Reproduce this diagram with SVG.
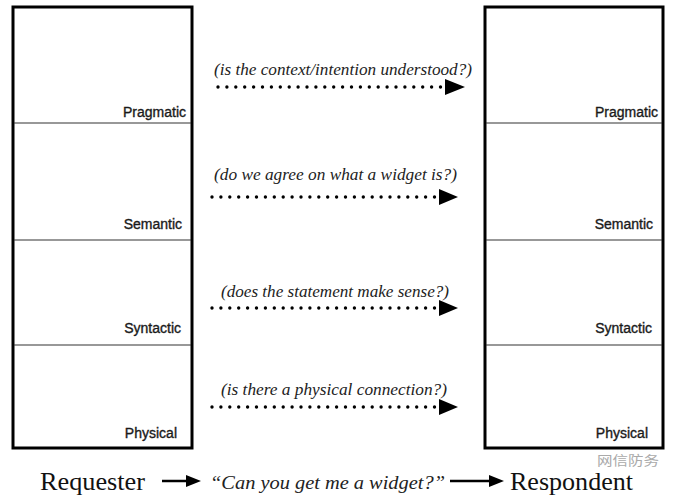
<svg xmlns="http://www.w3.org/2000/svg" width="683" height="499" viewBox="0 0 683 499">
<defs>
<style>
.box{fill:#fff;stroke:#000;stroke-width:3}
.div{stroke:#333;stroke-width:1.2}
.lbl{font-family:"Liberation Sans",Arial,sans-serif;font-size:14px;fill:#1a1a1a;stroke:#1a1a1a;stroke-width:0.35;text-anchor:end}
.q{font-family:"Liberation Serif","Times New Roman",serif;font-style:italic;font-size:16px;fill:#222}
.dots{stroke:#000;stroke-width:3.4;stroke-linecap:round;stroke-dasharray:0 8.9;fill:none}
.big{font-family:"Liberation Serif","Times New Roman",serif;font-size:25px;fill:#111}
.quote{font-family:"Liberation Serif","Times New Roman",serif;font-style:italic;font-size:19px;fill:#222}
.solid{stroke:#000;stroke-width:2.5}
</style>
</defs>
<rect width="683" height="499" fill="#fff"/>
<g id="requester">
<rect class="box" x="13" y="7" width="179" height="441"/>
<line class="div" x1="14" y1="123" x2="191" y2="123"/>
<line class="div" x1="14" y1="240" x2="191" y2="240"/>
<line class="div" x1="14" y1="345" x2="191" y2="345"/>
<text class="lbl" x="186" y="117">Pragmatic</text>
<text class="lbl" x="182" y="229">Semantic</text>
<text class="lbl" x="181" y="333">Syntactic</text>
<text class="lbl" x="177" y="438">Physical</text>
</g>
<g id="respondent">
<rect class="box" x="485" y="7" width="178" height="441"/>
<line class="div" x1="486" y1="123" x2="662" y2="123"/>
<line class="div" x1="486" y1="240" x2="662" y2="240"/>
<line class="div" x1="486" y1="345" x2="662" y2="345"/>
<text class="lbl" x="658" y="117">Pragmatic</text>
<text class="lbl" x="653" y="229">Semantic</text>
<text class="lbl" x="652" y="333">Syntactic</text>
<text class="lbl" x="648" y="438">Physical</text>
</g>
<g id="connectors">
<line class="dots" x1="218" y1="87" x2="444" y2="87"/>
<polygon points="445,79 465,87 445,95"/>
<line class="dots" x1="212" y1="197" x2="438" y2="197"/>
<polygon points="439,189 458,197 439,205"/>
<line class="dots" x1="212" y1="308" x2="438" y2="308"/>
<polygon points="439,300 458,308 439,316"/>
<line class="dots" x1="212" y1="407" x2="438" y2="407"/>
<polygon points="439,399 458,407 439,415"/>
<line class="solid" x1="162" y1="481" x2="190" y2="481"/>
<polygon points="186,475 201,481 186,487"/>
<line class="solid" x1="450" y1="481" x2="492" y2="481"/>
<polygon points="489,475 504,481 489,487"/>
</g>
<g id="questions">
<text class="q" x="214" y="75" textLength="258" lengthAdjust="spacingAndGlyphs">(is the context/intention understood?)</text>
<text class="q" x="214" y="180" textLength="243" lengthAdjust="spacingAndGlyphs">(do we agree on what a widget is?)</text>
<text class="q" x="221" y="297" textLength="228" lengthAdjust="spacingAndGlyphs">(does the statement make sense?)</text>
<text class="q" x="221" y="395" textLength="226" lengthAdjust="spacingAndGlyphs">(is there a physical connection?)</text>
</g>
<g id="bottom">
<text class="big" x="40" y="490" textLength="105" lengthAdjust="spacingAndGlyphs">Requester</text>
<text class="quote" x="210" y="489" textLength="235" lengthAdjust="spacingAndGlyphs">“Can you get me a widget?”</text>
<text class="big" x="510" y="490" textLength="123" lengthAdjust="spacingAndGlyphs">Respondent</text>
<text x="597" y="465" font-family="'Noto Sans CJK SC',sans-serif" font-size="13" fill="#aaa" textLength="62" lengthAdjust="spacingAndGlyphs">网信防务</text>
</g>
</svg>
